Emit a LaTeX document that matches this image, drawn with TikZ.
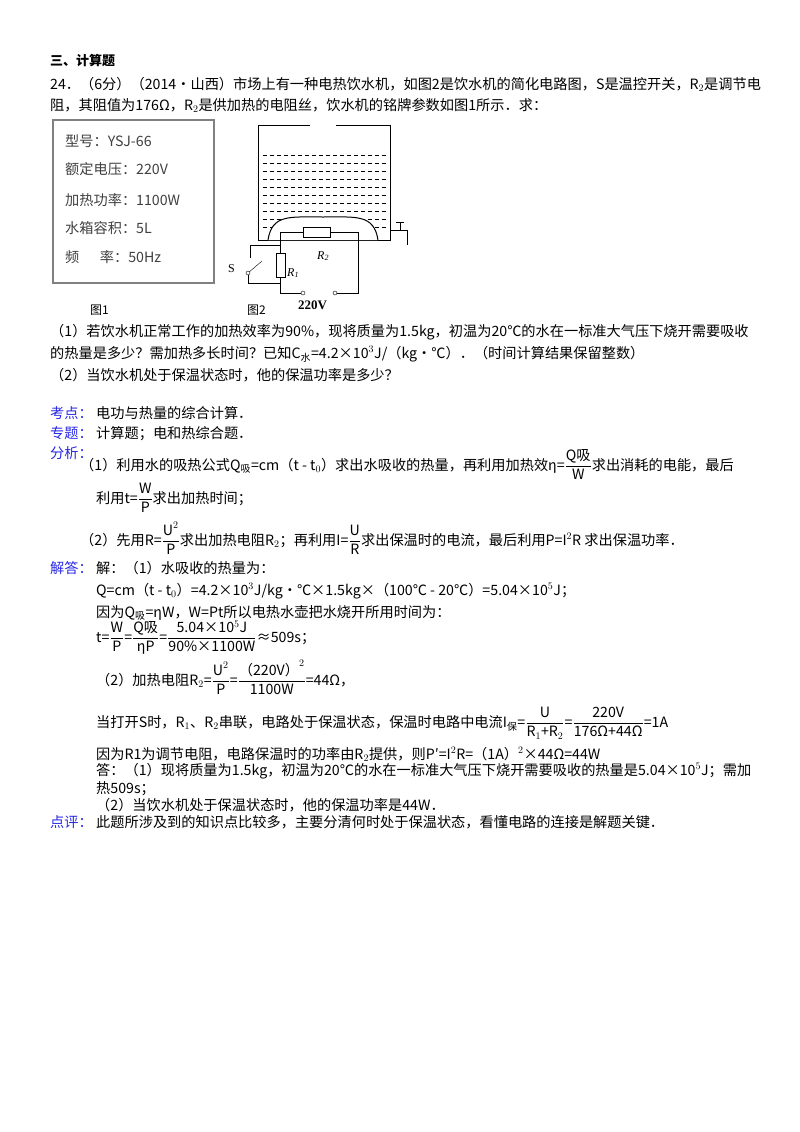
\documentclass[tikz,border=0pt]{standalone}
\usepackage{fontspec}
\setmainfont{Liberation Serif}
\newfontfamily\cjk{Noto Sans CJK SC}
\usepackage{amsmath}
\begin{document}
\begin{tikzpicture}[x=1pt,y=-1pt,
 t/.style={anchor=base west,inner sep=0pt,font=\fontsize{14.2}{16}\selectfont},
 lab/.style={t,text={rgb,255:red,40;green,40;blue,230}},
 w/.style={line width=1pt}]
\useasboundingbox[fill=white] (0,0) rectangle (800,1132);
\node[t,font=\fontsize{13}{15}\selectfont\bfseries] (h) at (50,66) {\cjk 三、计算题};
\node[t] (q1) at (50,89) {\cjk 24．（6分）（2014•山西）市场上有一种电热饮水机，如图2是饮水机的简化电路图，S是温控开关，R$_2$是调节电};
\node[t] (q2) at (50,110) {\cjk 阻，其阻值为176Ω，R$_2$是供加热的电阻丝，饮水机的铭牌参数如图1所示．求：};
% figure 1
\draw[gray,line width=1.5pt] (53,120) rectangle (214,283);
\foreach \yy/\s in {146/型号：YSJ-66,174/额定电压：220V,205/加热功率：1100W,233/水箱容积：5L,262/频\quad\ \ 率：50Hz}
 \node[t,text=black!75] at (65,\yy) {\cjk \s};
\node[t,font=\fontsize{12}{14}\selectfont] (f1) at (90,314) {\cjk 图1};
\node[t,font=\fontsize{12}{14}\selectfont] (f2) at (247,314) {\cjk 图2};
% tank
\draw[w] (310,125) -- (258,125) -- (258,240) -- (390,240) -- (390,125) -- (336,125);
\foreach \yy in {155,163,...,231} \draw[dash pattern=on 4pt off 3pt] (263,\yy) -- (386,\yy);
\fill[white] (268,240) .. controls (272,214) and (290,217) .. (323,217) .. controls (356,217) and (374,214) .. (378,240) -- cycle;
\draw[w] (268,240) .. controls (272,214) and (290,217) .. (323,217) .. controls (356,217) and (374,214) .. (378,240);
\draw (280,245) -- (280,232) -- (303,232); \draw (330,232) -- (358,232) -- (358,293) -- (333,293);
\draw[fill=white] (303,227) rectangle (330,237);
\draw (280,245) -- (280,253); \draw[fill=white] (276,253) rectangle (285,277);
\draw (280,277) -- (280,293) -- (301,293);
\draw (280,245) -- (250,245) -- (250,258);
\draw (248,273) -- (262,261);
\draw (248,275) -- (248,283) -- (280,283);
\draw[fill=white] (248,273) circle (2); \draw[fill=white] (303,293) circle (2); \draw[fill=white] (335,293) circle (2);
% tap
\draw[w] (390,230) -- (407,230) -- (407,245); \draw[w] (400,230) -- (400,222); \draw[w] (396,222) -- (404,222);
\node[t,font=\fontsize{12}{14}\selectfont] (s) at (228,272) {S};
\node[t,font=\fontsize{12}{14}\selectfont\itshape] (r1) at (287,276) {R\textsubscript{1}};
\node[t,font=\fontsize{12}{14}\selectfont\itshape] (r2) at (317,259) {R\textsubscript{2}};
\node[t,font=\fontsize{13}{15}\selectfont\bfseries] (v) at (298,309) {220V};
% questions
\node[t] at (50,336) {\cjk （1）若饮水机正常工作的加热效率为90\%，现将质量为1.5kg，初温为20℃的水在一标准大气压下烧开需要吸收};
\node[t] at (50,358) {\cjk 的热量是多少？需加热多长时间？已知C$_{\text{水}}$=4.2×10$^3$J/（kg•℃）．（时间计算结果保留整数）};
\node[t] at (50,380) {\cjk （2）当饮水机处于保温状态时，他的保温功率是多少？};
\node[lab] at (50,418) {\cjk 考点：}; \node[t] at (96,418) {\cjk 电功与热量的综合计算．};
\node[lab] at (50,438) {\cjk 专题：}; \node[t] at (96,438) {\cjk 计算题；电和热综合题．};
\node[lab] at (50,458) {\cjk 分析：};
\node[t] at (80,470) {\cjk （1）利用水的吸热公式Q$_{\text{吸}}$=cm（t - t$_0$）求出水吸收的热量，再利用加热效η=$\dfrac{\text{Q吸}}{\text{W}}$求出消耗的电能，最后};
\node[t] at (96,503) {\cjk 利用t=$\dfrac{\text{W}}{\text{P}}$求出加热时间；};
\node[t] at (80,545) {\cjk （2）先用R=$\dfrac{\text{U}^2}{\text{P}}$求出加热电阻R$_2$；再利用I=$\dfrac{\text{U}}{\text{R}}$求出保温时的电流，最后利用P=I$^2$R 求出保温功率．};
\node[lab] at (50,573) {\cjk 解答：}; \node[t] at (96,573) {\cjk 解：（1）水吸收的热量为：};
\node[t] at (96,595) {\cjk Q=cm（t - t$_0$）=4.2×10$^3$J/kg•℃×1.5kg×（100℃ - 20℃）=5.04×10$^5$J；};
\node[t] at (96,617) {\cjk 因为Q$_{\text{吸}}$=ηW，W=Pt所以电热水壶把水烧开所用时间为：};
\node[t] at (96,642) {\cjk t=$\dfrac{\text{W}}{\text{P}}$=$\dfrac{\text{Q吸}}{\text{ηP}}$=$\dfrac{\text{5.04×10$^5$J}}{\text{90\%×1100W}}$≈509s；};
\node[t] at (96,685) {\cjk （2）加热电阻R$_2$=$\dfrac{\text{U}^2}{\text{P}}$=$\dfrac{\text{（220V）}^2}{\text{1100W}}$=44Ω，};
\node[t] at (96,727) {\cjk 当打开S时，R$_1$、R$_2$串联，电路处于保温状态，保温时电路中电流I$_{\text{保}}$=$\dfrac{\text{U}}{\text{R$_1$+R$_2$}}$=$\dfrac{\text{220V}}{\text{176Ω+44Ω}}$=1A};
\node[t] at (96,759) {\cjk 因为R1为调节电阻，电路保温时的功率由R$_2$提供，则P′=I$^2$R=（1A）$^2$×44Ω=44W};
\node[t] at (96,775) {\cjk 答：（1）现将质量为1.5kg，初温为20℃的水在一标准大气压下烧开需要吸收的热量是5.04×10$^5$J；需加};
\node[t] at (96,793) {\cjk 热509s；};
\node[t] at (96,810) {\cjk （2）当饮水机处于保温状态时，他的保温功率是44W．};
\node[lab] at (50,827) {\cjk 点评：}; \node[t] at (96,827) {\cjk 此题所涉及到的知识点比较多，主要分清何时处于保温状态，看懂电路的连接是解题关键．};
\end{tikzpicture}
\end{document}
